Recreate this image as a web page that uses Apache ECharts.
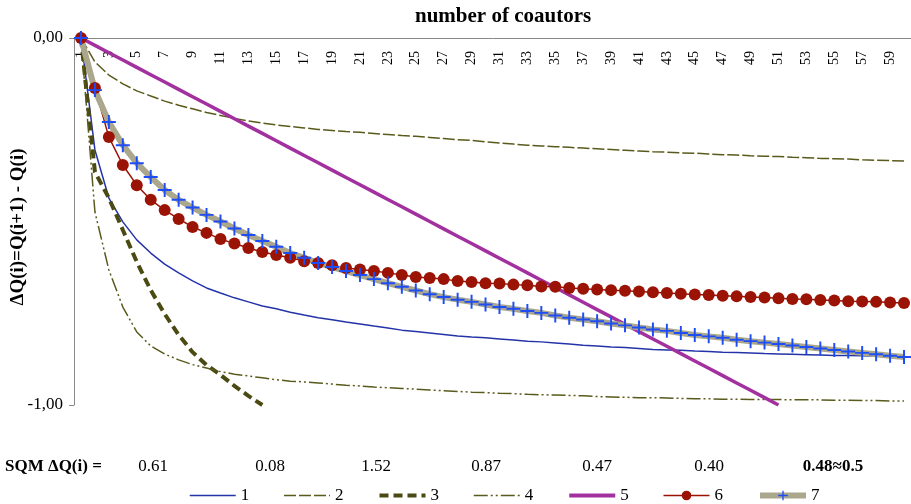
<!DOCTYPE html>
<html>
<head>
<meta charset="utf-8">
<script src="https://cdn.jsdelivr.net/npm/echarts@6/dist/echarts.min.js"></script>
<style>
  html, body { margin: 0; padding: 0; background: #fff; }
  #chart { width: 911px; height: 504px; }
</style>
</head>
<body>
<div id="chart"></div>
<script>
// number of coauthors (category axis, top)
const categories = ['1','2','3','4','5','6','7','8','9','10','11','12','13','14','15','16','17','18','19','20',
  '21','22','23','24','25','26','27','28','29','30','31','32','33','34','35','36','37','38','39','40',
  '41','42','43','44','45','46','47','48','49','50','51','52','53','54','55','56','57','58','59','60'];

const seriesNames = ['1', '2', '3', '4', '5', '6', '7'];

const s1 = [0, -0.305, -0.436, -0.501, -0.550, -0.586, -0.616, -0.640, -0.662, -0.681,
  -0.695, -0.708, -0.719, -0.730, -0.738, -0.747, -0.755, -0.762, -0.768, -0.774,
  -0.779, -0.785, -0.790, -0.796, -0.800, -0.804, -0.808, -0.812, -0.815, -0.817,
  -0.820, -0.823, -0.826, -0.828, -0.831, -0.834, -0.837, -0.839, -0.842, -0.843,
  -0.846, -0.849, -0.850, -0.851, -0.853, -0.854, -0.856, -0.857, -0.858, -0.860,
  -0.861, -0.862, -0.863, -0.864, -0.865, -0.865, -0.866, -0.867, -0.868, -0.869];

const s2 = [0, -0.065, -0.101, -0.125, -0.144, -0.158, -0.172, -0.183, -0.193, -0.203,
  -0.211, -0.219, -0.226, -0.232, -0.237, -0.241, -0.245, -0.249, -0.252, -0.255,
  -0.257, -0.260, -0.263, -0.266, -0.268, -0.271, -0.274, -0.277, -0.279, -0.283,
  -0.286, -0.289, -0.292, -0.294, -0.296, -0.298, -0.300, -0.302, -0.304, -0.306,
  -0.308, -0.310, -0.311, -0.313, -0.314, -0.316, -0.318, -0.319, -0.321, -0.322,
  -0.323, -0.325, -0.326, -0.328, -0.329, -0.330, -0.332, -0.333, -0.334, -0.335];

const s3 = [0, -0.365, -0.436, -0.523, -0.610, -0.687, -0.752, -0.809, -0.856, -0.891,
  -0.918, -0.948, -0.975, -1.000];

const s4 = [0, -0.474, -0.632, -0.733, -0.801, -0.839, -0.861, -0.877, -0.890, -0.899,
  -0.909, -0.916, -0.921, -0.926, -0.931, -0.935, -0.937, -0.940, -0.943, -0.946,
  -0.948, -0.951, -0.953, -0.955, -0.957, -0.959, -0.961, -0.963, -0.965, -0.966,
  -0.968, -0.969, -0.971, -0.972, -0.973, -0.974, -0.975, -0.977, -0.978, -0.979,
  -0.980, -0.980, -0.981, -0.982, -0.983, -0.983, -0.984, -0.984, -0.985, -0.985,
  -0.985, -0.986, -0.986, -0.986, -0.987, -0.987, -0.988, -0.988, -0.989, -0.989];

const s5 = [0, -0.02, -0.04, -0.06, -0.08, -0.10, -0.12, -0.14, -0.16, -0.18,
  -0.20, -0.22, -0.24, -0.26, -0.28, -0.30, -0.32, -0.34, -0.36, -0.38,
  -0.40, -0.42, -0.44, -0.46, -0.48, -0.50, -0.52, -0.54, -0.56, -0.58,
  -0.60, -0.62, -0.64, -0.66, -0.68, -0.70, -0.72, -0.74, -0.76, -0.78,
  -0.80, -0.82, -0.84, -0.86, -0.88, -0.90, -0.92, -0.94, -0.96, -0.98, -1.00];

const s6 = [0, -0.136, -0.270, -0.346, -0.401, -0.441, -0.469, -0.493, -0.515, -0.531,
  -0.548, -0.560, -0.572, -0.583, -0.591, -0.599, -0.608, -0.613, -0.619, -0.627,
  -0.631, -0.635, -0.640, -0.646, -0.651, -0.654, -0.657, -0.662, -0.665, -0.668,
  -0.669, -0.672, -0.674, -0.677, -0.678, -0.681, -0.683, -0.685, -0.687, -0.689,
  -0.691, -0.693, -0.695, -0.697, -0.699, -0.700, -0.702, -0.704, -0.706, -0.707,
  -0.709, -0.711, -0.712, -0.714, -0.715, -0.717, -0.718, -0.719, -0.721, -0.722];

const s7 = [0, -0.142, -0.229, -0.292, -0.341, -0.379, -0.414, -0.441, -0.462, -0.482,
  -0.500, -0.519, -0.537, -0.553, -0.569, -0.586, -0.599, -0.613, -0.624, -0.635,
  -0.646, -0.657, -0.668, -0.678, -0.688, -0.698, -0.706, -0.713, -0.719, -0.726,
  -0.733, -0.738, -0.744, -0.749, -0.756, -0.762, -0.767, -0.772, -0.778, -0.783,
  -0.789, -0.794, -0.798, -0.804, -0.809, -0.813, -0.817, -0.822, -0.826, -0.830,
  -0.834, -0.838, -0.842, -0.846, -0.850, -0.854, -0.858, -0.862, -0.866, -0.869];

// SQM of delta Q(i) for each series, shown under the plot
const sqmLabel = 'SQM \u0394Q(i) =';
const sqmValues = ['0.61', '0.08', '1.52', '0.87', '0.47', '0.40', '0.48\u22480.5'];

const serif = 'Liberation Serif';
const sqmX = [153, 270, 376, 486, 597, 709, 833];

const crossPath = 'path://M4.3,0H5.7V4.3H10V5.7H5.7V10H4.3V5.7H0V4.3H4.3Z';

let chart = echarts.init(document.getElementById('chart'));

let sqmGraphics = [{
  type: 'text', x: 5, y: 467,
  style: { text: sqmLabel, font: 'bold 17px ' + serif, fill: '#000', verticalAlign: 'middle' }
}];
sqmValues.forEach(function (v, i) {
  sqmGraphics.push({
    type: 'text', x: sqmX[i], y: 467,
    style: {
      text: v, font: (i === 6 ? 'bold ' : '') + '17px ' + serif, fill: '#000',
      align: 'center', verticalAlign: 'middle'
    }
  });
});
sqmGraphics.push({
  type: 'text', x: 18, y: 227, rotation: Math.PI / 2,
  style: {
    text: '\u0394Q(i)=Q(i+1) - Q(i)', font: 'bold 19px ' + serif, fill: '#000',
    align: 'center', verticalAlign: 'middle'
  }
});

// lines without markers: hide the legend symbol, keep the line
const legendLineWidth = [1.5, 1.5, 4, 1.5, 4, 1.5, 6];
let legendData = seriesNames.map(function (n, i) {
  let item = { name: n, lineStyle: { width: legendLineWidth[i] } };
  if (i < 5) {
    item.itemStyle = { opacity: 0 };
  }
  return item;
});

let option = {
  backgroundColor: '#fff',
  animation: false,
  title: {
    text: 'number of coautors',
    left: 410,
    top: 1,
    textStyle: { fontFamily: serif, fontWeight: 'bold', fontSize: 21, color: '#000' }
  },
  legend: {
    data: legendData,
    left: 189,
    top: 487,
    padding: 0,
    itemWidth: 46,
    itemHeight: 12,
    itemGap: 34,
    textStyle: { fontFamily: serif, fontSize: 17, color: '#000' }
  },
  grid: { left: 74, top: 38, width: 838, height: 367 },
  xAxis: {
    type: 'category',
    position: 'top',
    data: categories,
    boundaryGap: true,
    axisLine: { lineStyle: { color: '#888', width: 1 } },
    axisTick: { inside: true, interval: 0, length: 4, lineStyle: { color: '#888' } },
    axisLabel: {
      inside: true, rotate: 90, interval: 1, margin: 13,
      fontFamily: serif, fontSize: 14, color: '#000'
    },
    splitLine: { show: false }
  },
  yAxis: {
    type: 'value',
    min: -1,
    max: 0,
    interval: 1,
    axisLine: { show: true, lineStyle: { color: '#888', width: 1 } },
    axisTick: { show: true, length: 5, lineStyle: { color: '#888' } },
    axisLabel: {
      margin: 11, fontFamily: serif, fontSize: 17, color: '#000',
      formatter: function (v) { return v.toFixed(2).replace('.', ','); }
    },
    splitLine: { show: false }
  },
  graphic: sqmGraphics,
  series: [
    {
      name: '1', type: 'line', data: s1, symbol: 'none',
      lineStyle: { color: '#2434a8', width: 1.5 }, itemStyle: { color: '#2434a8' }
    },
    {
      name: '2', type: 'line', data: s2, symbol: 'none',
      lineStyle: { color: '#5a5a1c', width: 1.5, type: [12, 3] }, itemStyle: { color: '#5a5a1c' }
    },
    {
      name: '3', type: 'line', data: s3, symbol: 'none',
      lineStyle: { color: '#4a4a12', width: 4, type: [9, 5] }, itemStyle: { color: '#4a4a12' }
    },
    {
      name: '4', type: 'line', data: s4, symbol: 'none',
      lineStyle: { color: '#5a5a1c', width: 1.5, type: [14, 3, 2, 3, 2, 3] }, itemStyle: { color: '#5a5a1c' }
    },
    {
      name: '5', type: 'line', data: s5, symbol: 'none',
      lineStyle: { color: '#a3309f', width: 3.5 }, itemStyle: { color: '#a3309f' }
    },
    {
      name: '6', type: 'line', data: s6, symbol: 'circle', symbolSize: 12, showAllSymbol: true,
      lineStyle: { color: '#9a1305', width: 1.5 }, itemStyle: { color: '#9a1305' }
    },
    {
      name: '7', type: 'line', data: s7, symbol: crossPath, symbolSize: 14, showAllSymbol: true,
      lineStyle: { color: '#aaa78c', width: 6 }, itemStyle: { color: '#1f4df5' }
    }
  ]
};
chart.setOption(option);
</script>
</body>
</html>
